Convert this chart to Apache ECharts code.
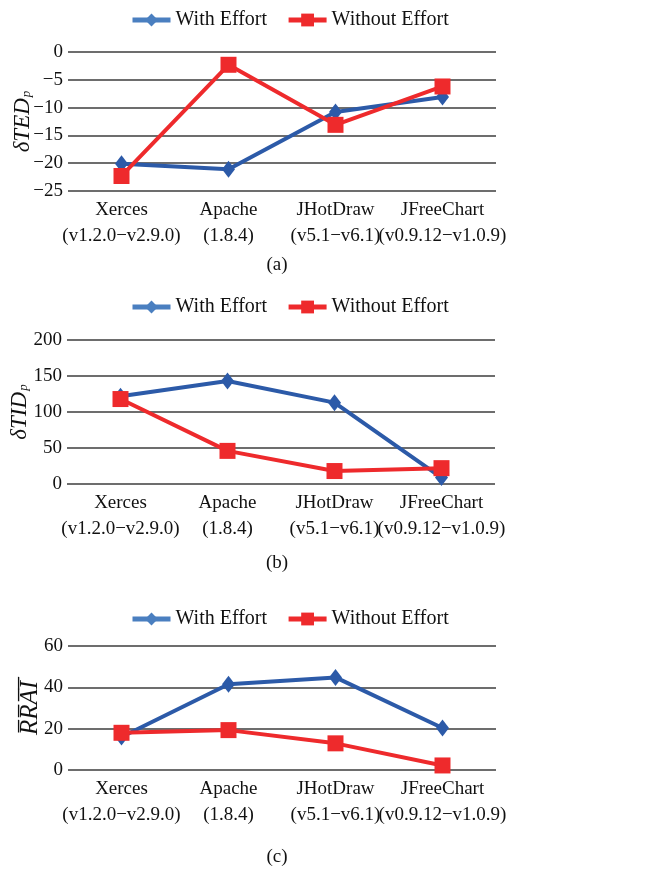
<!DOCTYPE html>
<html><head><meta charset="utf-8">
<script src="https://cdn.jsdelivr.net/npm/echarts@6/dist/echarts.min.js"></script>
<style>html,body{margin:0;padding:0;background:#fff}#c{width:655px;height:870px}</style>
</head><body><div id="c"></div>
<script>
const categories = ['Xerces\n(v1.2.0\u2212v2.9.0)', 'Apache\n(1.8.4)', 'JHotDraw\n(v5.1\u2212v6.1)', 'JFreeChart\n(v0.9.12\u2212v1.0.9)'];
const seriesNames = ['With Effort', 'Without Effort'];
// (a) δTED_p
const tedWith = [-20.1, -21.1, -10.8, -8.1];
const tedWithout = [-22.3, -2.3, -13.1, -6.2];
// (b) δTID_p
const tidWith = [122, 143, 113, 9];
const tidWithout = [118, 46, 18, 22];
// (c) RRAI
const rraiWith = [16, 41.5, 44.8, 20.3];
const rraiWithout = [18, 19.3, 12.9, 2.2];
const captions = ['(a)', '(b)', '(c)'];

const FONT = 'Liberation Serif';
const BLUE = '#2c5aa8', BLUE_L = '#4a7fc0', RED = '#ee2a2c';

const grids = [
  {left: 68, width: 428, top: 52, height: 139, containLabel: false, outerBoundsMode: 'none'},
  {left: 67, width: 428, top: 340, height: 144, containLabel: false, outerBoundsMode: 'none'},
  {left: 68, width: 428, top: 646, height: 124, containLabel: false, outerBoundsMode: 'none'}
];
const yRanges = [[-25, 0, 5], [0, 200, 50], [0, 60, 20]];
const yNames = ['{i|\u03b4TED}{s|p}', '{i|\u03b4TID}{s|p}', '{r|R\u0305R\u0305A\u0305I\u0305}'];
const nameGaps = [34, 36, 25];
const dataSets = [[tedWith, tedWithout], [tidWith, tidWithout], [rraiWith, rraiWithout]];
const legendTops = [5, 292, 604];
const captionY = [265, 563, 857];

const option = {
  animation: false,
  grid: grids,
  xAxis: grids.map((g, i) => ({
    type: 'category', gridIndex: i, data: categories, boundaryGap: true,
    axisLine: {show: false}, axisTick: {show: false},
    axisLabel: {fontFamily: FONT, fontSize: 19, color: '#111', lineHeight: 26, margin: 6, interval: 0}
  })),
  yAxis: grids.map((g, i) => ({
    type: 'value', gridIndex: i, min: yRanges[i][0], max: yRanges[i][1], interval: yRanges[i][2],
    axisLine: {show: false}, axisTick: {show: false},
    splitLine: {lineStyle: {color: '#3c3c3c', width: 1.5}},
    axisLabel: {fontFamily: FONT, fontSize: 19, color: '#111', margin: 5,
      formatter: v => String(v).replace('-', '\u2212')},
    name: yNames[i], nameLocation: 'middle', nameRotate: 90, nameGap: nameGaps[i],
    nameMoveOverlap: false,
    nameTextStyle: {rich: {
      i: {fontFamily: FONT, fontStyle: 'italic', fontSize: 23, color: '#111'},
      r: {fontFamily: FONT, fontStyle: 'italic', fontSize: 25, color: '#111'},
      s: {fontFamily: FONT, fontStyle: 'italic', fontSize: 13, color: '#111', padding: [9, 0, 0, 1]}
    }}
  })),
  legend: grids.map((g, i) => ({
    top: legendTops[i], left: 125, itemWidth: 38, itemHeight: 16, itemGap: 19,
    textStyle: {fontFamily: FONT, fontSize: 20, color: '#111'},
    data: [
      {name: seriesNames[0], itemStyle: {color: BLUE_L}, lineStyle: {color: BLUE_L, width: 5}},
      {name: seriesNames[1], itemStyle: {color: RED}, lineStyle: {color: RED, width: 5}}
    ]
  })),
  series: dataSets.flatMap((ds, i) => [
    {name: seriesNames[0], type: 'line', xAxisIndex: i, yAxisIndex: i, data: ds[0],
      symbol: 'diamond', symbolSize: [13, 17], color: BLUE,
      lineStyle: {width: 4, color: BLUE}, itemStyle: {color: BLUE}, z: 2},
    {name: seriesNames[1], type: 'line', xAxisIndex: i, yAxisIndex: i, data: ds[1],
      symbol: 'rect', symbolSize: 16, color: RED,
      lineStyle: {width: 4, color: RED}, itemStyle: {color: RED}, z: 3}
  ]),
  graphic: captions.map((c, i) => ({
    type: 'text', x: 277, y: captionY[i],
    style: {text: c, fontFamily: FONT, fontSize: 19, fill: '#111', textAlign: 'center', textVerticalAlign: 'middle'}
  }))
};
const chart = echarts.init(document.getElementById('c'), null, {renderer: 'canvas'});
chart.setOption(option);
</script></body></html>
